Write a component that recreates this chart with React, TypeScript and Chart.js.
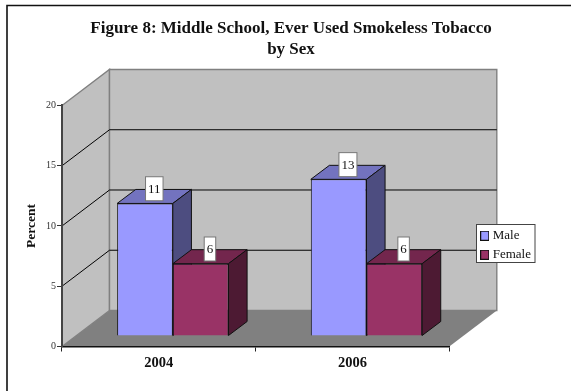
import React, { useEffect, useRef } from "react";
import { Chart, registerables } from "chart.js";

Chart.register(...registerables);

const titleLines = ["Figure 8: Middle School, Ever Used Smokeless Tobacco", "by Sex"];
const years = ["2004", "2006"];
const maleValues = [11, 13];
const femaleValues = [6, 6];
const seriesNames = ["Male", "Female"];
const frontColors = ["#9999FF", "#993366"];
const topColors = ["#7373BF", "#73264D"];
const sideColors = ["#4D4D80", "#4D1A33"];

const SERIF = "'Liberation Serif', 'Times New Roman', serif";

// Perspective offsets of the box: room depth, bar depth, and where bars sit on the floor.
const ROOM_DX = 47.5;
const ROOM_DY = -36;
const BAR_DX = 18.6;
const BAR_DY = -14;
const FLOOR_DX = 14;
const FLOOR_DY = -10.5;

function poly(ctx: CanvasRenderingContext2D, pts: number[][], fill: string | null, stroke: string | null, lw = 1) {
  ctx.beginPath();
  pts.forEach(([x, y], i) => (i ? ctx.lineTo(x, y) : ctx.moveTo(x, y)));
  ctx.closePath();
  if (fill) {
    ctx.fillStyle = fill;
    ctx.fill();
  }
  if (stroke) {
    ctx.strokeStyle = stroke;
    ctx.lineWidth = lw;
    ctx.stroke();
  }
}

function swatch(color: string) {
  const c = document.createElement("canvas");
  c.width = 9;
  c.height = 10;
  const g = c.getContext("2d")!;
  g.fillStyle = "#111";
  g.fillRect(0, 0, 9, 10);
  g.fillStyle = color;
  g.fillRect(1, 1, 7, 8);
  return c;
}

const roomPlugin = {
  id: "room",
  afterLayout(chart: any) {
    // Title is centred on the framed panel; the legend floats over the right wall edge.
    chart.titleBlock.left = 0;
    chart.titleBlock.right = 582;
    const lg = chart.legend;
    lg.left = 477.2;
    lg.right = 535;
    lg.top = 223.2;
    lg.bottom = 275;
  },
  beforeDraw(chart: any) {
    const { ctx, scales } = chart;
    const { x, y } = scales;
    const l = x.left;
    const r = x.right;
    const b = y.bottom;
    const t = y.top;
    ctx.save();

    // Outer frame: top and left rules only
    ctx.strokeStyle = "#111";
    ctx.lineWidth = 1.6;
    ctx.beginPath();
    ctx.moveTo(7, 391);
    ctx.lineTo(7, 5.5);
    ctx.lineTo(571, 5.5);
    ctx.stroke();

    // Floor, side wall, back wall
    poly(ctx, [[l, b], [r, b], [r + ROOM_DX, b + ROOM_DY], [l + ROOM_DX, b + ROOM_DY]], "#808080", null);
    poly(ctx, [[l, b], [l, t], [l + ROOM_DX, t + ROOM_DY], [l + ROOM_DX, b + ROOM_DY]], "#C0C0C0", "#808080", 1.4);
    poly(
      ctx,
      [[l + ROOM_DX, b + ROOM_DY], [l + ROOM_DX, t + ROOM_DY], [r + ROOM_DX, t + ROOM_DY], [r + ROOM_DX, b + ROOM_DY]],
      "#C0C0C0",
      "#808080",
      1.4
    );

    // Gridlines wrap from the side wall onto the back wall
    ctx.strokeStyle = "#000";
    ctx.lineWidth = 1;
    y.ticks.forEach((tick: any) => {
      if (tick.value === 0 || tick.value === y.max) return;
      const py = y.getPixelForValue(tick.value);
      ctx.beginPath();
      ctx.moveTo(l, py);
      ctx.lineTo(l + ROOM_DX, py + ROOM_DY);
      ctx.lineTo(r + ROOM_DX, py + ROOM_DY);
      ctx.stroke();
    });

    // Legend panel
    ctx.fillStyle = "#fff";
    ctx.fillRect(476.5, 224.5, 58.5, 38);
    ctx.strokeStyle = "#444";
    ctx.strokeRect(476.5, 224.5, 58.5, 38);
    ctx.restore();
  },
  beforeDatasetsDraw(chart: any) {
    // Top and side faces go down first so each front face covers its neighbour's side.
    const { ctx } = chart;
    ctx.save();
    seriesNames.forEach((_, ds) => {
      chart.getDatasetMeta(ds).data.forEach((bar: any) => {
        const x0 = bar.x - bar.width / 2 + FLOOR_DX;
        const x1 = bar.x + bar.width / 2 + FLOOR_DX;
        const yt = bar.y + FLOOR_DY;
        const yb = bar.base + FLOOR_DY;
        poly(ctx, [[x0, yt], [x1, yt], [x1 + BAR_DX, yt + BAR_DY], [x0 + BAR_DX, yt + BAR_DY]], topColors[ds], "#111", 1);
        poly(ctx, [[x1, yt], [x1 + BAR_DX, yt + BAR_DY], [x1 + BAR_DX, yb + BAR_DY], [x1, yb]], sideColors[ds], "#111", 1);
      });
    });
    ctx.restore();
  },
  beforeDatasetDraw(chart: any) {
    chart.ctx.save();
    chart.ctx.translate(FLOOR_DX, FLOOR_DY);
  },
  afterDatasetDraw(chart: any) {
    chart.ctx.restore();
  },
  afterDatasetsDraw(chart: any) {
    // Value tags above each bar's top face
    const { ctx } = chart;
    ctx.save();
    ctx.font = `13px ${SERIF}`;
    ctx.textAlign = "center";
    ctx.textBaseline = "middle";
    chart.data.datasets.forEach((dataset: any, ds: number) => {
      chart.getDatasetMeta(ds).data.forEach((bar: any, i: number) => {
        const text = String(dataset.data[i]);
        const cx = bar.x + FLOOR_DX + BAR_DX / 2;
        const cy = bar.y + FLOOR_DY - 14.7;
        const w = ctx.measureText(text).width + 5;
        ctx.fillStyle = "#fff";
        ctx.fillRect(cx - w / 2, cy - 12, w, 24);
        ctx.strokeStyle = "#777";
        ctx.lineWidth = 1;
        ctx.strokeRect(cx - w / 2, cy - 12, w, 24);
        ctx.fillStyle = "#111";
        ctx.fillText(text, cx, cy + 0.5);
      });
    });
    ctx.restore();
  },
};

export default function App() {
  const ref = useRef<HTMLCanvasElement>(null);

  useEffect(() => {
    const chart = new Chart(ref.current!, {
      type: "bar",
      plugins: [roomPlugin],
      data: {
        labels: years,
        datasets: [
          {
            label: seriesNames[0],
            data: maleValues,
            backgroundColor: frontColors[0],
            borderColor: "#111",
            borderWidth: 1,
            clip: false,
          },
          {
            label: seriesNames[1],
            data: femaleValues,
            backgroundColor: frontColors[1],
            borderColor: "#111",
            borderWidth: 1,
            clip: false,
          },
        ],
      } as any,
      options: {
        responsive: false,
        animation: false,
        layout: { padding: { left: 0, right: 121.7, top: 0, bottom: 0 } },
        datasets: { bar: { categoryPercentage: 0.575, barPercentage: 1 } },
        scales: {
          x: {
            afterFit: (s: any) => {
              s.height = 44.5;
            },
            grid: { drawOnChartArea: false, tickLength: 5, color: "#222", offset: true },
            border: { color: "#111", width: 1.5 },
            ticks: {
              color: "#111",
              padding: 3,
              maxRotation: 0,
              font: { family: SERIF, size: 14.5, weight: "bold" },
            },
          },
          y: {
            min: 0,
            max: 20,
            afterFit: (s: any) => {
              s.width = 62;
            },
            grid: { drawOnChartArea: false, tickLength: 5, color: "#333" },
            border: { color: "#444", width: 2 },
            ticks: {
              stepSize: 5,
              color: "#333",
              padding: 1,
              font: { family: SERIF, size: 10 },
            },
            title: {
              display: true,
              text: "Percent",
              color: "#111",
              padding: { top: 23, bottom: 0 },
              font: { family: SERIF, size: 13.5, weight: "bold" },
            },
          },
        },
        plugins: {
          title: {
            display: true,
            text: titleLines,
            color: "#111",
            font: { family: SERIF, size: 17, weight: "bold", lineHeight: 1.235 },
            padding: { top: 18, bottom: 45.5 },
          },
          legend: {
            position: "chartArea",
            align: "start",
            labels: {
              usePointStyle: true,
              pointStyleWidth: 3,
              padding: 6,
              color: "#111",
              font: { family: SERIF, size: 13 },
              generateLabels: () =>
                seriesNames.map((text, i) => ({
                  text,
                  datasetIndex: i,
                  pointStyle: swatch(frontColors[i]),
                  fontColor: "#111",
                  hidden: false,
                })),
            },
          },
          tooltip: { enabled: false },
        },
      } as any,
    });
    return () => chart.destroy();
  }, []);

  return (
    <div style={{ position: "absolute", left: 0, top: 0, width: 571, height: 391 }}>
      <canvas ref={ref} width={571} height={391} style={{ display: "block" }} />
    </div>
  );
}
